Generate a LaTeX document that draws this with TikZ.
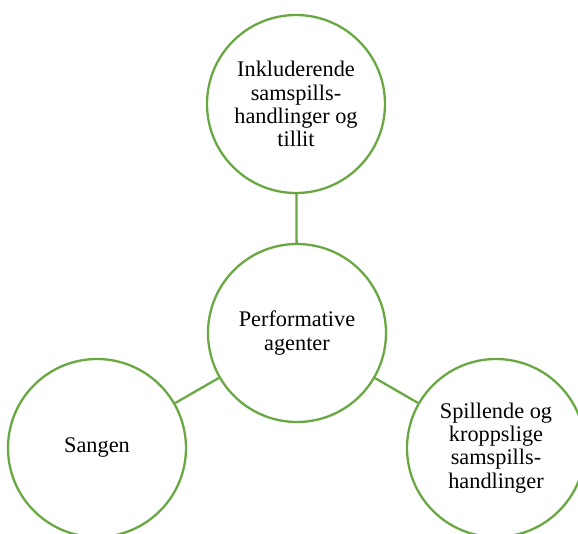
\documentclass[tikz,border=0pt]{standalone}
\usepackage{fontspec}
\setmainfont{Liberation Serif}
\definecolor{leafgreen}{HTML}{6AA843}
\begin{document}
\begin{tikzpicture}[x=1pt,y=-1pt,
  agent/.style={circle,draw=leafgreen,line width=2.3pt,fill=white,
    minimum size=178pt,inner sep=0pt,align=center,
    font=\fontsize{22.3}{23.2}\selectfont},
  link/.style={draw=leafgreen,line width=2.3pt}]
  \useasboundingbox (0,0) rectangle (578,533);
  \clip (0,0) rectangle (578,533);
  \node[agent] (top)   at (296,104) {Inkluderende\\samspills-\\handlinger og\\tillit};
  \node[agent] (mid)   at (297,333) {Performative\\agenter};
  \node[agent] (left)  at (97,448)  {Sangen};
  \node[agent] (right) at (496,448) {Spillende og\\kroppslige\\samspills-\\handlinger};
  \draw[link] (top) -- (mid);
  \draw[link] (left) -- (mid);
  \draw[link] (mid) -- (right);
\end{tikzpicture}
\end{document}
